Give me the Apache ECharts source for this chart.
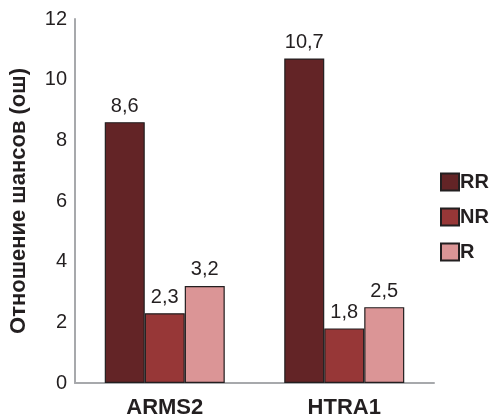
<!DOCTYPE html>
<html>
<head>
<meta charset="utf-8">
<script src="https://cdn.jsdelivr.net/npm/echarts@6/dist/echarts.min.js"></script>
<style>
  html, body { margin: 0; padding: 0; background: #fff; }
  #chart { width: 494px; height: 419px; }
</style>
</head>
<body>
<div id="chart"></div>
<script>
// data
const categories = ['ARMS2', 'HTRA1'];
const rrValues = [8.6, 10.7];
const nrValues = [2.3, 1.8];
const rValues = [3.2, 2.5];
const yTicks = [0, 2, 4, 6, 8, 10, 12];

let chartDom = document.getElementById('chart');
let myChart = echarts.init(chartDom);
let option;

const labelFmt = p => String(p.value).replace('.', ',');

function makeSeries(name, data, color) {
  return {
    name: name,
    type: 'bar',
    data: data,
    barWidth: 40,
    barGap: '0%',
    itemStyle: { color: color, borderColor: '#231f20', borderWidth: 1.2 },
    label: {
      show: true,
      position: 'top',
      distance: 6,
      formatter: labelFmt,
      fontFamily: 'Liberation Sans',
      fontSize: 20,
      color: '#231f20'
    }
  };
}

option = {
  animation: false,
  textStyle: { fontFamily: 'Liberation Sans' },
  grid: { left: 75, top: 19, right: 60, bottom: 35 },
  legend: {
    orient: 'vertical',
    left: 435,
    top: 167,
    itemWidth: 18,
    itemHeight: 17,
    itemGap: 15,
    icon: 'rect',
    textStyle: { fontSize: 20, fontWeight: 'bold', color: '#231f20', padding: [0, 0, 0, -4] },
    data: ['RR', 'NR', 'R']
  },
  xAxis: {
    type: 'category',
    data: categories,
    axisLine: { lineStyle: { color: '#a7a9ac', width: 2 } },
    axisTick: { show: false },
    axisLabel: { fontSize: 22, fontWeight: 'bold', color: '#231f20', margin: 14 }
  },
  yAxis: {
    type: 'value',
    min: yTicks[0],
    max: yTicks[yTicks.length - 1],
    interval: 2,
    name: 'Отношение шансов (ош)',
    nameLocation: 'middle',
    nameGap: 45,
    nameTextStyle: { fontSize: 22, fontWeight: 'bold', color: '#231f20' },
    axisLine: { show: true, lineStyle: { color: '#a7a9ac', width: 2 } },
    axisTick: { show: false },
    splitLine: { show: false },
    axisLabel: { fontSize: 20, color: '#231f20', margin: 8 }
  },
  series: [
    makeSeries('RR', rrValues, '#632426'),
    makeSeries('NR', nrValues, '#973737'),
    makeSeries('R', rValues, '#db9596')
  ]
};

option && myChart.setOption(option);
</script>
</body>
</html>
